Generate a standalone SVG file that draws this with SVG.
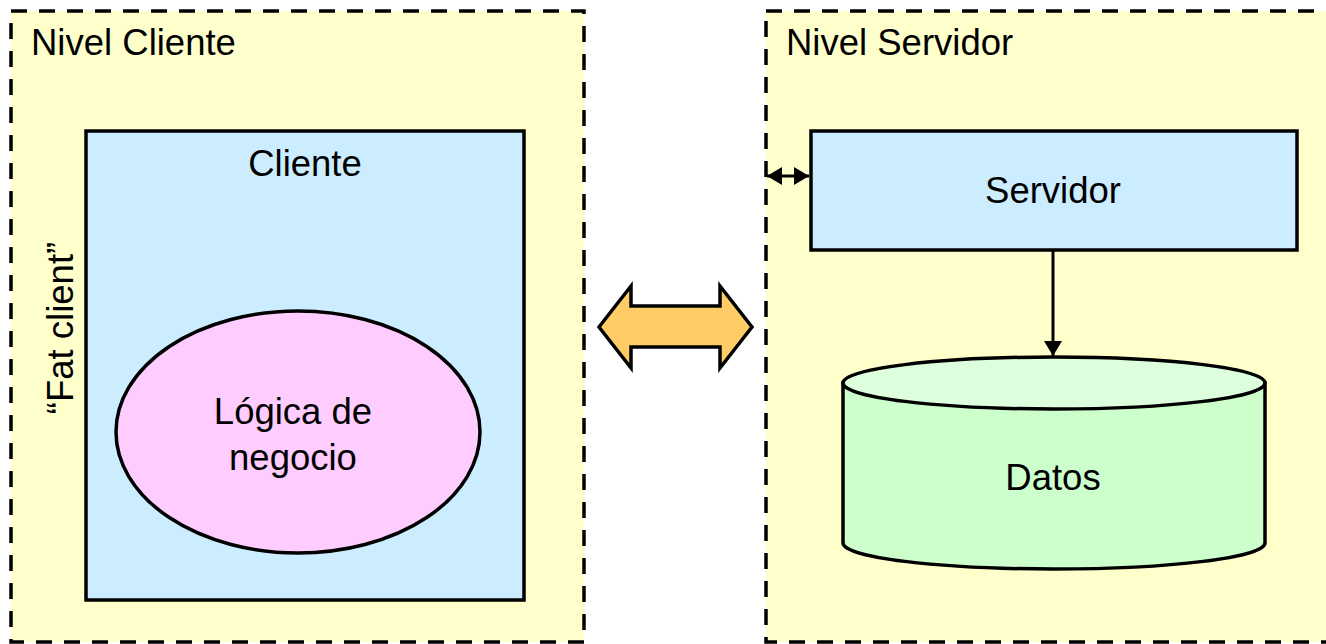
<svg xmlns="http://www.w3.org/2000/svg" width="1326" height="644" viewBox="0 0 1326 644">
  <style>
    .tier { fill: #FFFFCC; stroke: #000; stroke-width: 3.5; stroke-dasharray: 16 12; }
    .box { stroke: #000; stroke-width: 3.5; }
    .lbl { font-family: "Liberation Sans", Arial, sans-serif; font-size: 36.5px; fill: #000; }
    .mid { text-anchor: middle; }
    .link { stroke: #000; stroke-width: 3; fill: none; }
  </style>
  <defs>
    <marker id="head" viewBox="0 0 10 12" refX="10" refY="6" markerWidth="5" markerHeight="6" orient="auto-start-reverse" markerUnits="strokeWidth">
      <path d="M0,0 L10,6 L0,12 z" fill="#000"/>
    </marker>
  </defs>
  <rect width="1326" height="644" fill="#fff"/>

  <!-- client tier -->
  <g id="nivel-cliente">
    <rect class="tier" x="11" y="11" width="573" height="631"/>
    <text class="lbl" x="31" y="55">Nivel Cliente</text>
    <text class="lbl" transform="translate(73,328) rotate(-90)" text-anchor="middle">“Fat client”</text>
  </g>

  <!-- server tier -->
  <g id="nivel-servidor">
    <rect class="tier" x="766" y="11" width="600" height="631"/>
    <text class="lbl" x="786" y="55">Nivel Servidor</text>
  </g>

  <g id="cliente">
    <rect class="box" x="86" y="131" width="438" height="469" fill="#CCECFF"/>
    <text class="lbl mid" x="305" y="176">Cliente</text>
  </g>

  <g id="logica">
    <ellipse class="box" cx="298" cy="432" rx="182" ry="121" fill="#FFCCFF"/>
    <text class="lbl mid" x="293" y="424">Lógica de</text>
    <text class="lbl mid" x="293" y="470">negocio</text>
  </g>

  <g id="servidor">
    <rect class="box" x="811" y="131" width="486" height="119" fill="#CCECFF"/>
    <text class="lbl mid" x="1053" y="203">Servidor</text>
  </g>

  <!-- database cylinder -->
  <g id="datos">
    <path class="box" d="M843,383 L843,543 A211,26 0 0 0 1265,543 L1265,383 Z" fill="#CCFFCC"/>
    <ellipse class="box" cx="1054" cy="383" rx="211" ry="26" fill="#DDFFDD"/>
    <text class="lbl mid" x="1053" y="490">Datos</text>
  </g>

  <g id="connectors">
    <polygon points="599,327 631,286 631,306 720,306 720,286 752,327 720,368 720,347 631,347 631,368" fill="#FFCC66" stroke="#000" stroke-width="3.5" stroke-linejoin="miter"/>
    <line class="link" x1="767" y1="176" x2="809" y2="176" marker-start="url(#head)" marker-end="url(#head)"/>
    <line class="link" x1="1053" y1="251" x2="1053" y2="356" marker-end="url(#head)"/>
  </g>
</svg>
